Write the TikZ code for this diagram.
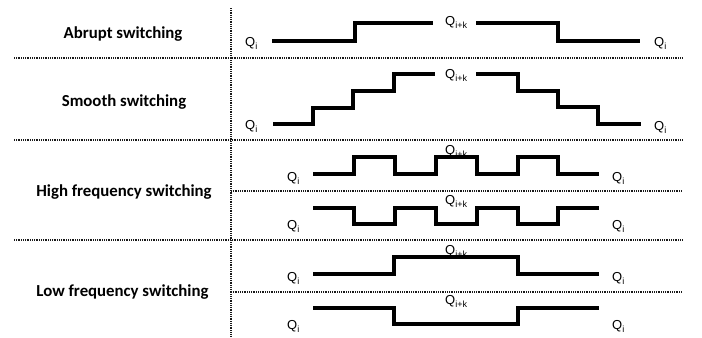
\documentclass[tikz,border=0pt]{standalone}
\usepackage{fontspec}
\setmainfont{Liberation Sans}
\newfontfamily\calib{Carlito}
\newcommand\qlab[1]{Q\raisebox{-0.45ex}{\fontsize{9bp}{9bp}\selectfont #1}}
\begin{document}
\begin{tikzpicture}[x=1bp,y=-1bp,
  sep/.style={line width=1.1bp,dash pattern=on 1bp off 0.8bp,black!90},
  wave/.style={line width=3.6bp,black},
  rowlab/.style={anchor=base,inner sep=0pt,font=\calib\bfseries\fontsize{16.8bp}{20bp}\selectfont},
  qlabel/.style={anchor=base west,inner sep=0pt,font=\fontsize{13bp}{15bp}\selectfont}]
\useasboundingbox (0,0) rectangle (702,337);
% separators
\coordinate (vt) at (231,8);
\coordinate (vb) at (231,337);
\draw[sep] (vt) -- (vb);
\foreach \yy/\nm in {58/a,140/b,240/c}{
  \coordinate (h\nm l) at (14,\yy);
  \coordinate (h\nm r) at (682,\yy);
  \draw[sep] (h\nm l) -- (h\nm r);
}
\foreach \yy/\nm in {191/d,292/e}{
  \coordinate (h\nm l) at (231,\yy);
  \coordinate (h\nm r) at (682,\yy);
  \draw[sep] (h\nm l) -- (h\nm r);
}
% row labels
\node[rowlab] (labA) at (123,38) {Abrupt switching};
\node[rowlab] (labS) at (124,106) {Smooth switching};
\node[rowlab] (labH) at (124,196) {High frequency switching};
\node[rowlab] (labL) at (122.5,296) {Low frequency switching};
% Q labels
\node[qlabel] (qA1) at (245,46.5) {\qlab{i}};
\node[qlabel] (qA2) at (654,46.5) {\qlab{i}};
\node[qlabel] (qA3) at (445,25) {\qlab{i+k}};
\node[qlabel] (qS1) at (245,129.5) {\qlab{i}};
\node[qlabel] (qS2) at (654,130) {\qlab{i}};
\node[qlabel] (qS3) at (445,78) {\qlab{i+k}};
\node[qlabel] (qH1) at (287,181.5) {\qlab{i}};
\node[qlabel] (qH2) at (612,181.5) {\qlab{i}};
\node[qlabel] (qH3) at (445,154.5) {\qlab{i+k}};
\node[qlabel] (qH4) at (287,229.5) {\qlab{i}};
\node[qlabel] (qH5) at (612,229.5) {\qlab{i}};
\node[qlabel] (qH6) at (445,204.5) {\qlab{i+k}};
\node[qlabel] (qL1) at (287,281.5) {\qlab{i}};
\node[qlabel] (qL2) at (612,281.5) {\qlab{i}};
\node[qlabel] (qL3) at (445,254.5) {\qlab{i+k}};
\node[qlabel] (qL4) at (287,329.5) {\qlab{i}};
\node[qlabel] (qL5) at (612,329.5) {\qlab{i}};
\node[qlabel] (qL6) at (445,304.5) {\qlab{i+k}};
% waveforms
\draw[wave] (272,41) -- (355,41) -- (355,23) -- (433,23);
\draw[wave] (476,23) -- (558,23) -- (558,41) -- (640,41);
\draw[wave] (273,124) -- (313,124) -- (313,108) -- (353,108) -- (353,91) -- (394,91) -- (394,74) -- (435,74);
\draw[wave] (476,74) -- (518,74) -- (518,91) -- (558,91) -- (558,107) -- (598,107) -- (598,124) -- (641,124);
\draw[wave] (313,174) -- (354,174) -- (354,157) -- (395,157) -- (395,174) -- (436,174) -- (436,157) -- (477,157) -- (477,174) -- (518,174) -- (518,157) -- (558,157) -- (558,174) -- (599,174);
\draw[wave] (313,208) -- (354,208) -- (354,224) -- (395,224) -- (395,208) -- (436,208) -- (436,224) -- (477,224) -- (477,208) -- (518,208) -- (518,224) -- (558,224) -- (558,208) -- (599,208);
\draw[wave] (313,274) -- (394,274) -- (394,257) -- (518,257) -- (518,274) -- (599,274);
\draw[wave] (313,308) -- (394,308) -- (394,324) -- (518,324) -- (518,308) -- (599,308);
\end{tikzpicture}
\end{document}
